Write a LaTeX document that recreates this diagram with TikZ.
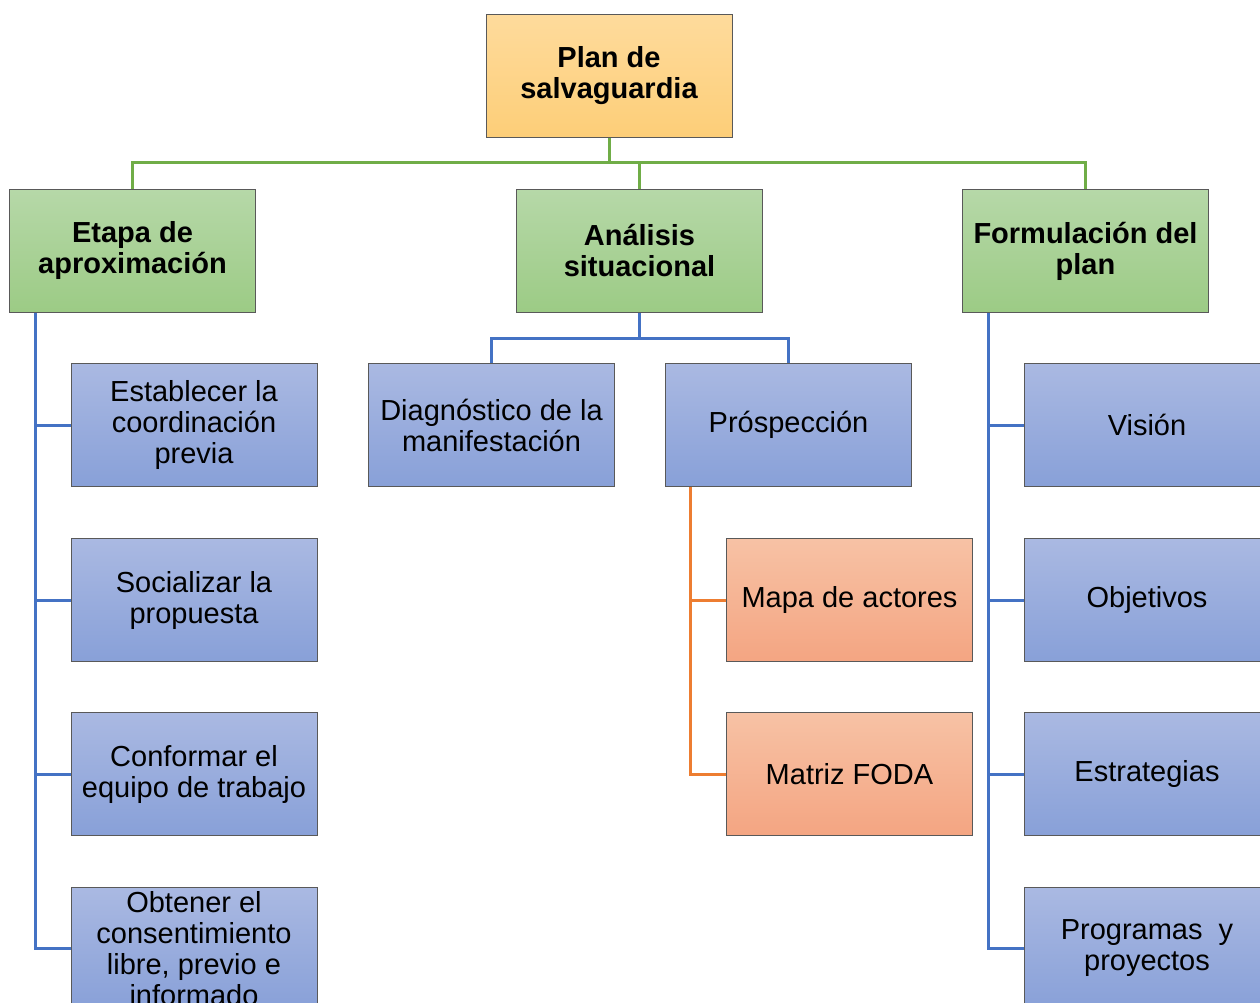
\documentclass[tikz,border=0pt]{standalone}
\usepackage{fontspec}
\setmainfont{Liberation Sans}
\begin{document}
\begin{tikzpicture}[x=1pt,y=-1pt,
  box/.style={draw=black!65, line width=0.9pt, minimum width=246pt, minimum height=123pt, inner sep=0pt,
    align=center, font=\fontsize{29}{31}\selectfont, shading=axis, shading angle=0},
  yellowbox/.style={box, top color=yellowT, bottom color=yellowB, font=\fontsize{29}{31}\selectfont\bfseries},
  greenbox/.style={box, top color=greenT, bottom color=greenB, font=\fontsize{29}{31}\selectfont\bfseries},
  bluebox/.style={box, top color=blueT, bottom color=blueB},
  orangebox/.style={box, top color=orangeT, bottom color=orangeB},
  gline/.style={draw=lgreen, line width=3pt},
  bline/.style={draw=lblue, line width=3pt},
  oline/.style={draw=lorange, line width=3pt}]
\definecolor{yellowT}{HTML}{FEDB9C}
\definecolor{yellowB}{HTML}{FDCE78}
\definecolor{greenT}{HTML}{B6D8A8}
\definecolor{greenB}{HTML}{9CCB85}
\definecolor{blueT}{HTML}{AAB9E2}
\definecolor{blueB}{HTML}{88A0D8}
\definecolor{orangeT}{HTML}{F7C2A5}
\definecolor{orangeB}{HTML}{F4A582}
\definecolor{lgreen}{HTML}{70AD47}
\definecolor{lblue}{HTML}{4472C4}
\definecolor{lorange}{HTML}{ED7D31}
\useasboundingbox (0,0) rectangle (1260,1003);
\clip (0,0) rectangle (1260,1003);
\fill[white] (0,0) rectangle (1260,1003);

% connector anchor points
\coordinate (gbar) at (609,163);
\coordinate (bbar) at (639.5,338);
\coordinate (etrunk) at (35,312);
\coordinate (ftrunk) at (988,312);
\coordinate (otrunk) at (690,486);

% nodes
\node[yellowbox] (root) at (609,76) {Plan de\\salvaguardia};
\node[greenbox] (etapa) at (132.5,251) {Etapa de\\aproximación};
\node[greenbox] (anal) at (639.5,251) {Análisis\\situacional};
\node[greenbox] (form) at (1085.5,251) {Formulación del\\plan};

\node[bluebox] (e1) at (194,425) {Establecer la\\coordinación\\previa};
\node[bluebox] (e2) at (194,600) {Socializar la\\propuesta};
\node[bluebox] (e3) at (194,774) {Conformar el\\equipo de trabajo};
\node[bluebox] (e4) at (194,948.5) {Obtener el\\consentimiento\\libre, previo e\\informado};

\node[bluebox] (diag) at (491.5,425) {Diagnóstico de la\\manifestación};
\node[bluebox] (pros) at (788.5,425) {Próspección};

\node[orangebox] (mapa) at (849.5,600) {Mapa de actores};
\node[orangebox] (foda) at (849.5,774) {Matriz FODA};

\node[bluebox] (f1) at (1147,425) {Visión};
\node[bluebox] (f2) at (1147,600) {Objetivos};
\node[bluebox] (f3) at (1147,774) {Estrategias};
\node[bluebox] (f4) at (1147,948.5) {Programas\ \ y\\proyectos};

% connectors
\draw[gline] (root.south) -- (gbar);
\draw[gline] (gbar) -| (etapa.north);
\draw[gline] (gbar) -| (anal.north);
\draw[gline] (gbar) -| (form.north);

\draw[bline] (anal.south) -- (bbar);
\draw[bline] (bbar) -| (diag.north);
\draw[bline] (bbar) -| (pros.north);

\draw[bline] (etapa.south -| etrunk) |- (e1.west);
\draw[bline] (etapa.south -| etrunk) |- (e2.west);
\draw[bline] (etapa.south -| etrunk) |- (e3.west);
\draw[bline] (etapa.south -| etrunk) |- (e4.west);

\draw[bline] (form.south -| ftrunk) |- (f1.west);
\draw[bline] (form.south -| ftrunk) |- (f2.west);
\draw[bline] (form.south -| ftrunk) |- (f3.west);
\draw[bline] (form.south -| ftrunk) |- (f4.west);

\draw[oline] (pros.south -| otrunk) |- (mapa.west);
\draw[oline] (pros.south -| otrunk) |- (foda.west);
\end{tikzpicture}
\end{document}
